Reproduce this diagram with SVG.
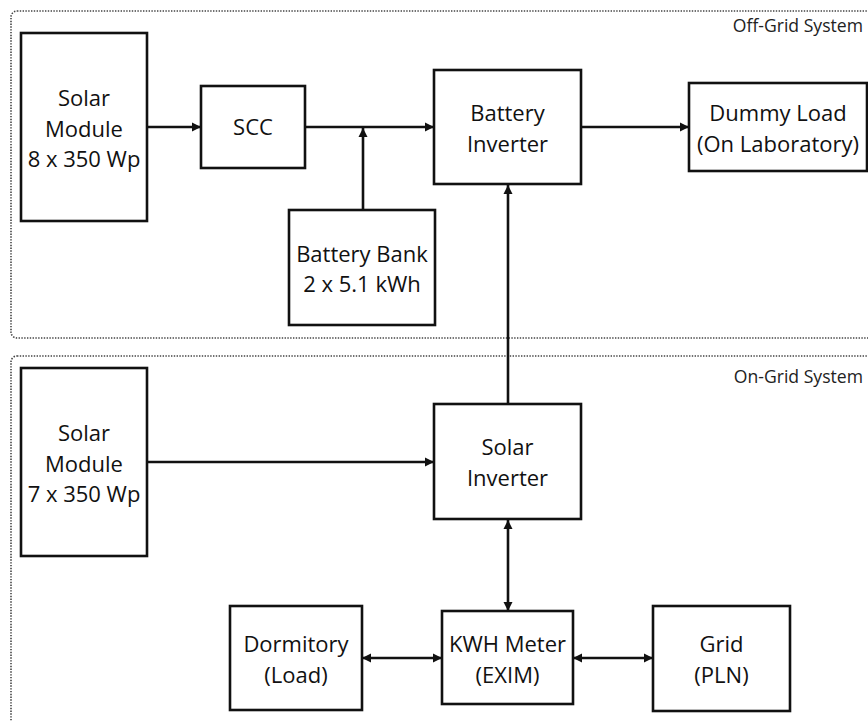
<svg xmlns="http://www.w3.org/2000/svg" width="868" height="721" viewBox="0 0 868 721">
<defs>
<style>
.grp{fill:none;stroke:#444;stroke-width:1.6;stroke-dasharray:1.4 1.4}
.box{fill:#fff;stroke:#111;stroke-width:2.6}
.lbl{font-family:"Open Sans","Noto Sans",sans-serif;font-size:22px;fill:#111;text-anchor:middle}
.sys{font-family:"Open Sans","Noto Sans",sans-serif;font-size:17.6px;fill:#222;text-anchor:end}
.ln{fill:none;stroke:#111;stroke-width:2.6}
</style>
<marker id="ah" viewBox="0 0 10 10" refX="10" refY="5" markerWidth="9" markerHeight="11" markerUnits="userSpaceOnUse" orient="auto-start-reverse">
<path d="M0,0 L10,5 L0,10 z" fill="#111"/>
</marker>
</defs>
<rect width="868" height="721" fill="#fff"/>
<g id="off-grid">
<rect class="grp" x="11" y="11" width="880" height="327" rx="6"/>
<text class="sys" x="863" y="32">Off-Grid System</text>
</g>
<g id="on-grid">
<rect class="grp" x="11" y="356" width="880" height="400" rx="6"/>
<text class="sys" x="863" y="383">On-Grid System</text>
</g>
<g id="connectors">
<line class="ln" x1="147" y1="127" x2="201" y2="127" marker-end="url(#ah)"/>
<line class="ln" x1="305" y1="127" x2="434" y2="127" marker-end="url(#ah)"/>
<line class="ln" x1="363" y1="210" x2="363" y2="128" marker-end="url(#ah)"/>
<line class="ln" x1="581" y1="127" x2="689" y2="127" marker-end="url(#ah)"/>
<line class="ln" x1="508" y1="404" x2="508" y2="185" marker-end="url(#ah)"/>
<line class="ln" x1="147" y1="462" x2="434" y2="462" marker-end="url(#ah)"/>
<line class="ln" x1="508" y1="520" x2="508" y2="611" marker-start="url(#ah)" marker-end="url(#ah)"/>
<line class="ln" x1="362" y1="658" x2="442" y2="658" marker-start="url(#ah)" marker-end="url(#ah)"/>
<line class="ln" x1="573" y1="658" x2="653" y2="658" marker-start="url(#ah)" marker-end="url(#ah)"/>
</g>
<g id="solar-module-1">
<rect class="box" x="21" y="33" width="126" height="188"/>
<text class="lbl" x="84" y="106">Solar</text>
<text class="lbl" x="84" y="137">Module</text>
<text class="lbl" x="84" y="167">8 x 350 Wp</text>
</g>
<g id="scc">
<rect class="box" x="201" y="86" width="104" height="82"/>
<text class="lbl" x="253" y="135">SCC</text>
</g>
<g id="battery-bank">
<rect class="box" x="289" y="210" width="146" height="115"/>
<text class="lbl" x="362" y="262">Battery Bank</text>
<text class="lbl" x="362" y="292">2 x 5.1 kWh</text>
</g>
<g id="battery-inverter">
<rect class="box" x="434" y="70" width="147" height="114"/>
<text class="lbl" x="507.5" y="121">Battery</text>
<text class="lbl" x="507.5" y="152">Inverter</text>
</g>
<g id="dummy-load">
<rect class="box" x="689" y="83" width="178" height="88"/>
<text class="lbl" x="778" y="121">Dummy Load</text>
<text class="lbl" x="778" y="152">(On Laboratory)</text>
</g>
<g id="solar-module-2">
<rect class="box" x="21" y="368" width="126" height="188"/>
<text class="lbl" x="84" y="441">Solar</text>
<text class="lbl" x="84" y="472">Module</text>
<text class="lbl" x="84" y="502">7 x 350 Wp</text>
</g>
<g id="solar-inverter">
<rect class="box" x="434" y="404" width="147" height="115"/>
<text class="lbl" x="507.5" y="455">Solar</text>
<text class="lbl" x="507.5" y="486">Inverter</text>
</g>
<g id="kwh-meter">
<rect class="box" x="442" y="611" width="131" height="93"/>
<text class="lbl" x="507.5" y="652">KWH Meter</text>
<text class="lbl" x="507.5" y="683">(EXIM)</text>
</g>
<g id="dormitory">
<rect class="box" x="230" y="606" width="132" height="104"/>
<text class="lbl" x="296" y="652">Dormitory</text>
<text class="lbl" x="296" y="683">(Load)</text>
</g>
<g id="grid">
<rect class="box" x="653" y="606" width="137" height="105"/>
<text class="lbl" x="721.5" y="652">Grid</text>
<text class="lbl" x="721.5" y="683">(PLN)</text>
</g>
</svg>
